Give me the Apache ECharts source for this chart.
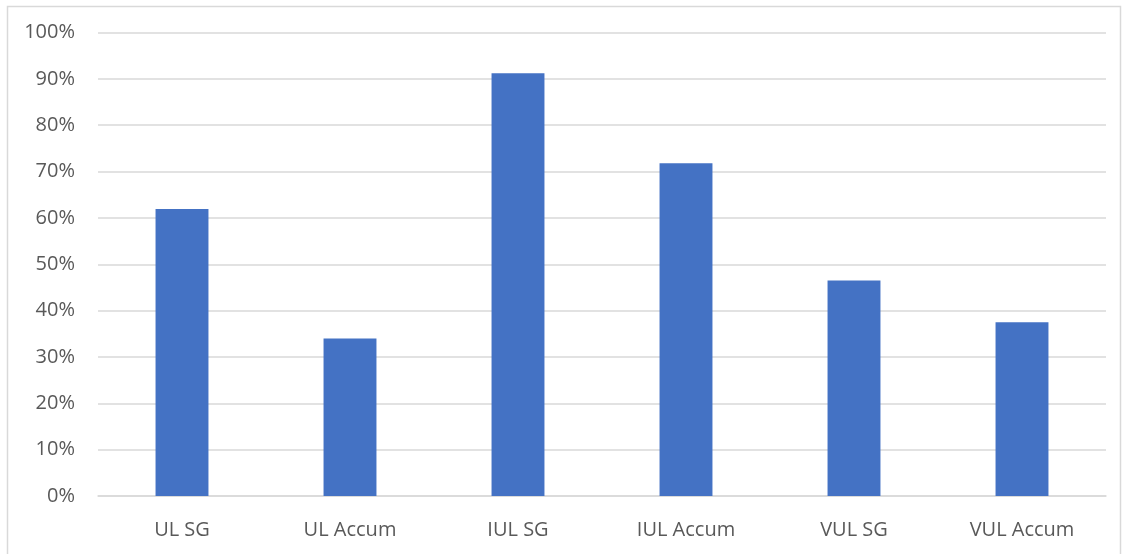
<!DOCTYPE html>
<html>
<head>
<meta charset="utf-8">
<script src="https://cdn.jsdelivr.net/npm/echarts@6/dist/echarts.min.js"></script>
<style>
html,body{margin:0;padding:0;background:#fff;}
#c{width:1124px;height:554px;}
</style>
</head>
<body>
<div id="c"></div>
<script>
const categories = ['UL SG', 'UL Accum', 'IUL SG', 'IUL Accum', 'VUL SG', 'VUL Accum'];
const values = [61.9, 34.0, 91.2, 71.8, 46.5, 37.5];
const yTicks = [0, 10, 20, 30, 40, 50, 60, 70, 80, 90, 100];

const chart = echarts.init(document.getElementById('c'), null, {renderer: 'canvas'});
const font = '"Open Sans", "Liberation Sans", sans-serif';
chart.setOption({
  animation: false,
  backgroundColor: '#fff',
  graphic: [{
    type: 'rect',
    left: 5, top: 4,
    shape: {width: 1113, height: 570},
    style: {fill: 'none', stroke: '#d9d9d9', lineWidth: 1.5},
    silent: true
  }],
  grid: {left: 98, right: 18, top: 32.5, bottom: 58},
  xAxis: {
    type: 'category',
    data: categories,
    axisLine: {lineStyle: {color: '#d9d9d9', width: 1.5}},
    axisTick: {show: false},
    axisLabel: {color: '#595959', fontSize: 20, fontFamily: font, margin: 24}
  },
  yAxis: {
    type: 'value',
    min: yTicks[0], max: yTicks[yTicks.length - 1], interval: 10,
    axisLine: {show: false},
    axisTick: {show: false},
    splitLine: {lineStyle: {color: '#d9d9d9', width: 1.5}},
    axisLabel: {color: '#595959', fontSize: 20, fontFamily: font, margin: 23,
      formatter: v => v + '%'}
  },
  series: [{
    type: 'bar',
    data: values,
    barWidth: '31.5%',
    itemStyle: {color: '#4472c4'}
  }]
});
</script>
</body>
</html>
